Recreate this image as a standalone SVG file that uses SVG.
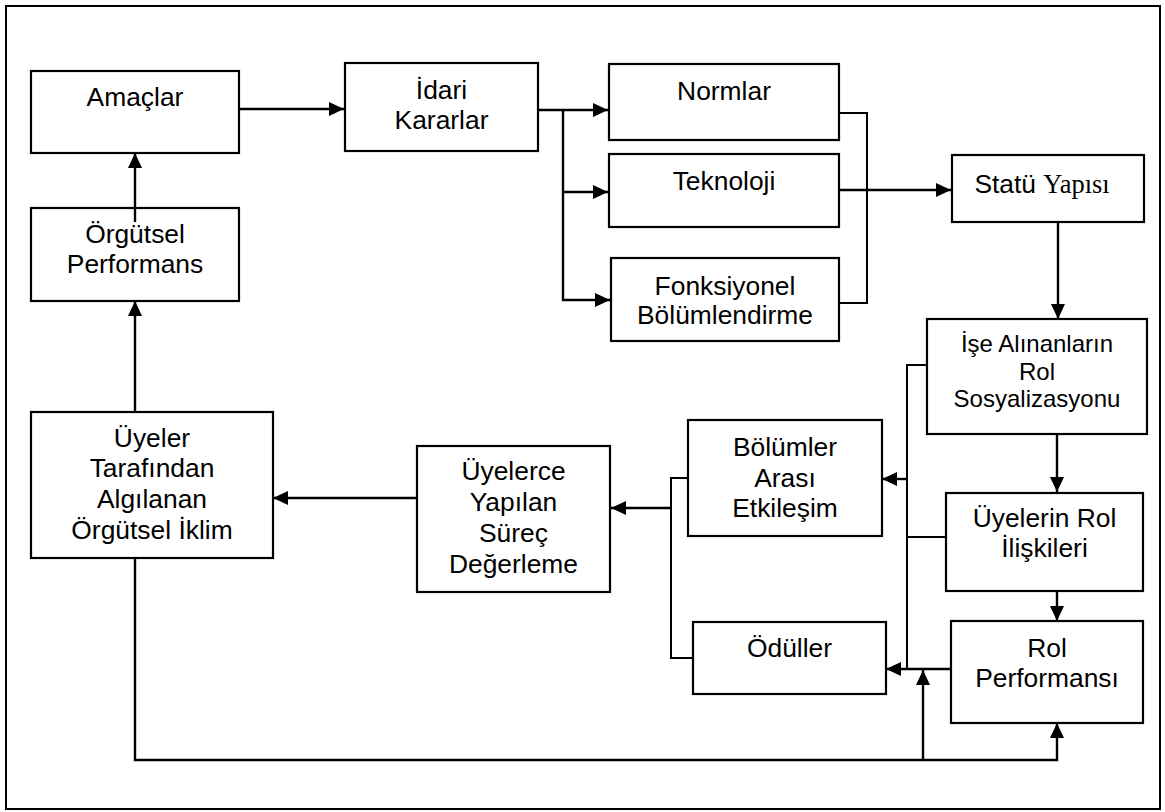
<svg xmlns="http://www.w3.org/2000/svg" width="1165" height="812" viewBox="0 0 1165 812">
<style>
.box{fill:#fff;stroke:#000;stroke-width:2.2}
.t{font-family:"Liberation Sans",Arial,sans-serif;font-size:26.4px;fill:#000;text-anchor:middle}
.ts{font-size:24px}
.ser{font-family:"Liberation Serif","Times New Roman",serif}
.c{fill:none;stroke:#000;stroke-width:2.4}
.b{fill:none;stroke:#000;stroke-width:2}
</style>
<defs>
<marker id="ah" markerUnits="userSpaceOnUse" markerWidth="15" markerHeight="14" refX="15" refY="7" orient="auto">
<path d="M0,0 L15,7 L0,14 z" fill="#000"/>
</marker>
</defs>
<rect x="6" y="6" width="1154" height="803" fill="#fff" stroke="#000" stroke-width="2"/>

<g id="connectors">
<line class="c" x1="239" y1="109" x2="344" y2="109" marker-end="url(#ah)"/>
<line class="c" x1="135" y1="412" x2="135" y2="301" marker-end="url(#ah)"/>
<line class="c" x1="538" y1="110" x2="608" y2="110" marker-end="url(#ah)"/>
<polyline class="c" points="563,110 563,300 610,300" marker-end="url(#ah)"/>
<line class="c" x1="562" y1="192" x2="608" y2="192" marker-end="url(#ah)"/>
<polyline class="b" points="839,113 867,113 867,303 839,303"/>
<line class="c" x1="839" y1="190" x2="951" y2="190" marker-end="url(#ah)"/>
<line class="c" x1="1058" y1="222" x2="1058" y2="319" marker-end="url(#ah)"/>
<line class="c" x1="1057" y1="434" x2="1057" y2="492" marker-end="url(#ah)"/>
<line class="c" x1="1057" y1="591" x2="1057" y2="621" marker-end="url(#ah)"/>
<polyline class="b" points="927,365 907,365 907,669"/>
<line class="b" x1="907" y1="537" x2="946" y2="537"/>
<line class="c" x1="907" y1="479" x2="882" y2="479" marker-end="url(#ah)"/>
<line class="c" x1="951" y1="669" x2="886" y2="669" marker-end="url(#ah)"/>
<polyline class="c" points="135,558 135,760 1057,760 1057,723" marker-end="url(#ah)"/>
<line class="c" x1="923" y1="760" x2="923" y2="670" marker-end="url(#ah)"/>
<polyline class="b" points="688,478 671,478 671,658 693,658"/>
<line class="c" x1="671" y1="508" x2="611" y2="508" marker-end="url(#ah)"/>
<line class="c" x1="417" y1="498" x2="273" y2="498" marker-end="url(#ah)"/>
</g>

<g id="amaclar"><rect class="box" x="31" y="71" width="208" height="82"/><text class="t" x="135" y="106">Amaçlar</text></g>
<g id="orgutsel-performans"><rect class="box" x="31" y="208" width="208" height="93"/><text class="t" x="135" y="243">Örgütsel</text><text class="t" x="135" y="273">Performans</text></g>
<line class="c" x1="135" y1="222" x2="135" y2="153" marker-end="url(#ah)"/>
<g id="idari-kararlar"><rect class="box" x="345" y="63" width="193" height="88"/><text class="t" x="441.5" y="99">İdari</text><text class="t" x="441.5" y="129">Kararlar</text></g>
<g id="normlar"><rect class="box" x="609" y="64" width="230" height="76"/><text class="t" x="724" y="100">Normlar</text></g>
<g id="teknoloji"><rect class="box" x="609" y="154" width="230" height="73"/><text class="t" x="724" y="190">Teknoloji</text></g>
<g id="fonksiyonel"><rect class="box" x="611" y="258" width="228" height="83"/><text class="t" x="725" y="295">Fonksiyonel</text><text class="t" x="725" y="324">Bölümlendirme</text></g>
<g id="statu-yapisi"><rect class="box" x="952" y="155" width="192" height="67"/><text class="t" x="1042" y="193">Statü <tspan class="ser">Yapısı</tspan></text></g>
<g id="ise-alinanlar"><rect class="box" x="927" y="319" width="220" height="115"/><text class="t ts" x="1037" y="352">İşe Alınanların</text><text class="t ts" x="1037" y="380">Rol</text><text class="t ts" x="1037" y="407">Sosyalizasyonu</text></g>
<g id="uyelerin-rol"><rect class="box" x="946" y="493" width="197" height="98"/><text class="t" x="1044.5" y="527">Üyelerin Rol</text><text class="t" x="1044.5" y="557">İlişkileri</text></g>
<g id="rol-performansi"><rect class="box" x="951" y="621" width="192" height="102"/><text class="t" x="1047" y="657">Rol</text><text class="t" x="1047" y="687">Performansı</text></g>
<g id="bolumler-arasi"><rect class="box" x="688" y="420" width="194" height="116"/><text class="t" x="785" y="456">Bölümler</text><text class="t" x="785" y="487">Arası</text><text class="t" x="785" y="517">Etkileşim</text></g>
<g id="oduller"><rect class="box" x="693" y="622" width="193" height="72"/><text class="t" x="789.5" y="657">Ödüller</text></g>
<g id="uyelerce"><rect class="box" x="417" y="446" width="193" height="146"/><text class="t" x="513.5" y="480">Üyelerce</text><text class="t" x="513.5" y="511">Yapılan</text><text class="t" x="513.5" y="542">Süreç</text><text class="t" x="513.5" y="573">Değerleme</text></g>
<g id="uyeler-iklim"><rect class="box" x="31" y="412" width="242" height="146"/><text class="t" x="152" y="447">Üyeler</text><text class="t" x="152" y="477">Tarafından</text><text class="t" x="152" y="508">Algılanan</text><text class="t" x="152" y="539">Örgütsel İklim</text></g>
</svg>
